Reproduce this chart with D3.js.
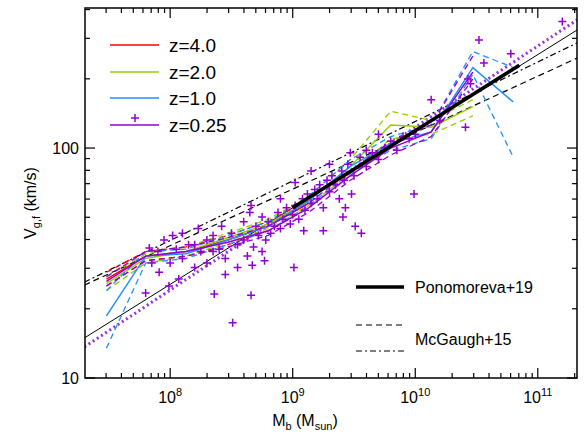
<!DOCTYPE html>
<html><head><meta charset="utf-8">
<script src="https://cdn.jsdelivr.net/npm/d3@7"></script>
<style>body{margin:0;background:#fff}text{font-family:"Liberation Sans",Arial,sans-serif}</style>
</head><body><div id="chart"></div>
<script>
// log10 stellar+gas mass bins for the median curves
const massBins = [7.48, 7.8, 8.13, 8.47, 8.8, 9.13, 9.47, 9.8, 10.13, 10.47, 10.8];
// log10 V medians and 16/84 percentiles per redshift
const z4 = { med: [1.43, 1.53, 1.55, 1.60, 1.66, 1.76], lo: [1.40, 1.51, 1.53, 1.58, 1.64, 1.74], hi: [1.46, 1.55, 1.57, 1.62, 1.68, 1.78] };
const z2 = { med: [1.41, 1.52, 1.55, 1.61, 1.67, 1.77, 1.92, 2.10, 2.09, 2.18], lo: [1.38, 1.50, 1.53, 1.59, 1.65, 1.75, 1.89, 2.04, 2.06, 2.14], hi: [1.44, 1.54, 1.57, 1.63, 1.69, 1.79, 1.95, 2.16, 2.12, 2.21] };
const z1 = { med: [1.27, 1.53, 1.54, 1.60, 1.66, 1.77, 1.92, 2.02, 2.07, 2.35, 2.20], lo: [1.13, 1.50, 1.52, 1.58, 1.64, 1.75, 1.89, 1.99, 2.04, 2.32, 1.96], hi: [1.38, 1.55, 1.56, 1.62, 1.68, 1.79, 1.95, 2.05, 2.10, 2.42, 2.35] };
const z025 = { med: [1.42, 1.53, 1.55, 1.59, 1.64, 1.74, 1.88, 2.00, 2.07, 2.33], lo: [1.40, 1.51, 1.53, 1.57, 1.62, 1.72, 1.86, 1.97, 2.05, 2.30], hi: [1.44, 1.55, 1.57, 1.61, 1.66, 1.76, 1.90, 2.03, 2.10, 2.40] };
// z=0.25 individual galaxies [logM, logV]
const galaxies = [
  [7.80,1.37],[7.83,1.565],[8.02,1.62],[7.99,1.40],[8.07,1.43],[7.91,1.46],[8.23,1.65],[8.36,1.365],[8.51,1.24],[8.66,1.36],
  [8.67,1.49],[8.77,1.51],[9.01,1.48],[9.02,1.85],[8.66,1.75],[9.09,1.64],[9.25,1.64],[9.41,1.70],[9.43,1.74],[9.51,1.66],
  [9.56,1.63],[9.48,1.80],[9.47,1.98],[9.99,1.80],[10.13,2.21],[10.41,2.09],[10.52,2.47],[10.56,2.37],[10.78,2.41],[11.20,2.55],
  [10.43,2.30],[8.0,1.50],[8.05,1.56],[8.1,1.52],[8.15,1.58],[8.2,1.48],[8.25,1.55],[8.3,1.60],[8.3,1.50],[8.35,1.62],
  [8.4,1.56],[8.42,1.66],[8.45,1.52],[8.5,1.63],[8.55,1.58],[8.6,1.68],[8.6,1.60],[8.65,1.72],[8.68,1.57],[8.7,1.66],
  [8.72,1.62],[8.75,1.70],[8.78,1.60],[8.8,1.68],[8.82,1.63],[8.85,1.66],[8.88,1.72],[8.9,1.65],[8.92,1.69],[8.95,1.74],
  [8.98,1.67],[9.0,1.71],[9.02,1.75],[9.05,1.69],[9.08,1.78],[9.1,1.73],[9.12,1.80],[9.15,1.76],[9.18,1.82],[9.2,1.78],
  [9.22,1.84],[9.25,1.74],[9.28,1.86],[9.3,1.81],[9.32,1.88],[9.35,1.84],[9.38,1.78],[9.4,1.90],[9.42,1.86],[9.45,1.93],
  [9.5,1.88],[9.55,1.96],[9.6,1.92],[9.65,1.98],[9.7,1.95],[9.75,2.0],[9.8,2.03],[9.85,1.99],[9.9,2.05],[9.95,2.04],
  [10.0,2.06],[7.9,1.55],[7.95,1.60],[7.85,1.50],[8.1,1.63],[8.2,1.58],[8.35,1.55],[8.45,1.45],[8.55,1.48],[8.63,1.53],
  [8.75,1.55],[9.3,1.93],[9.15,1.9],[8.9,1.78],[10.2,2.12],[10.45,2.28],[9.7,2.06],[9.6,1.99]
];
// reference relations: [logM0, logV0, logM1, logV1]
const ponoThick = [9.0, 1.74, 10.85, 2.36];
const ponoThin = [7.30, 1.174, 11.32, 2.513];
const fitDotted = [7.30, 1.135, 11.32, 2.557];
const mcgDash = [7.30, 1.404, 11.32, 2.391];
const mcgDashDot = [7.30, 1.417, 11.32, 2.457];
const yTicks = [10, 100];
const xTicks = [8, 9, 10, 11];

const W = 586, H = 432;
const m = { l: 85, r: 9, t: 8, b: 54 };
const x = d3.scaleLinear().domain([7.305, 11.32]).range([m.l, W - m.r]);
const y = d3.scaleLinear().domain([1, 2.609]).range([H - m.b, m.t]);

const svg = d3.select('#chart').append('svg').attr('width', W).attr('height', H);
const plot = svg.append('g');
svg.append('defs').append('clipPath').attr('id', 'c').append('rect')
  .attr('x', m.l).attr('y', m.t).attr('width', W - m.l - m.r).attr('height', H - m.t - m.b);
plot.attr('clip-path', 'url(#c)');

function seg(s, color, width, dash) {
  plot.append('line').attr('x1', x(s[0])).attr('y1', y(s[1])).attr('x2', x(s[2])).attr('y2', y(s[3]))
    .attr('stroke', color).attr('stroke-width', width).attr('stroke-dasharray', dash || null);
}
seg(ponoThin, '#000', 1);
seg(mcgDash, '#000', 1.2, '6,4');
seg(mcgDashDot, '#000', 1.2, '6,3,2,3');
seg(fitDotted, '#9932e0', 3, '2,3');

const line = d3.line().x((d, i) => x(massBins[i])).y(d => y(d));
function curves(s, color) {
  plot.append('path').attr('d', line(s.lo)).attr('fill', 'none').attr('stroke', color).attr('stroke-width', 1.3).attr('stroke-dasharray', '6,4');
  plot.append('path').attr('d', line(s.hi)).attr('fill', 'none').attr('stroke', color).attr('stroke-width', 1.3).attr('stroke-dasharray', '6,4');
  plot.append('path').attr('d', line(s.med)).attr('fill', 'none').attr('stroke', color).attr('stroke-width', 1.5);
}
curves(z4, '#ff0000');
curves(z2, '#99cc00');
curves(z1, '#1e90ff');
curves(z025, '#9400d3');

plot.selectAll('.g').data(galaxies).enter().append('path')
  .attr('d', d => { const cx = x(d[0]), cy = y(d[1]); return `M${cx - 4},${cy}H${cx + 4}M${cx},${cy - 4}V${cy + 4}`; })
  .attr('stroke', '#9400d3').attr('stroke-width', 1.5);
seg(ponoThick, '#000', 3.5);

// axes frame with IDL-style ticks on all sides
const x0 = m.l, x1 = W - m.r, y0 = H - m.b, y1 = m.t;
svg.append('rect').attr('x', x0).attr('y', y1).attr('width', x1 - x0).attr('height', y0 - y1)
  .attr('fill', 'none').attr('stroke', '#000').attr('stroke-width', 1.5);
const tk = svg.append('g').attr('stroke', '#000').attr('stroke-width', 1.2);
for (let e = 7; e <= 11; e++) for (let k = 1; k <= 9; k++) {
  const v = e + Math.log10(k);
  if (v < x.domain()[0] || v > x.domain()[1]) continue;
  const L = k === 1 ? 10 : 5, px = x(v);
  tk.append('line').attr('x1', px).attr('x2', px).attr('y1', y0).attr('y2', y0 - L);
  tk.append('line').attr('x1', px).attr('x2', px).attr('y1', y1).attr('y2', y1 + L);
}
for (let e = 1; e <= 2; e++) for (let k = 1; k <= 9; k++) {
  const v = e + Math.log10(k);
  if (v > y.domain()[1]) continue;
  const L = k === 1 ? 10 : 5, py = y(v);
  tk.append('line').attr('y1', py).attr('y2', py).attr('x1', x0).attr('x2', x0 + L);
  tk.append('line').attr('y1', py).attr('y2', py).attr('x1', x1).attr('x2', x1 - L);
}
yTicks.forEach(v => svg.append('text').attr('x', x0 - 6).attr('y', y(Math.log10(v)) + 6)
  .attr('text-anchor', 'end').attr('font-size', 16).text(v));
xTicks.forEach(e => {
  const t = svg.append('text').attr('x', x(e)).attr('y', y0 + 25).attr('text-anchor', 'middle').attr('font-size', 16);
  t.append('tspan').text('10');
  t.append('tspan').attr('dy', -7).attr('font-size', 11).text(e);
});
const xt = svg.append('text').attr('x', x(9.1)).attr('y', H - 6).attr('text-anchor', 'middle').attr('font-size', 16);
xt.append('tspan').text('M');
xt.append('tspan').attr('dy', 4).attr('font-size', 11).text('b');
xt.append('tspan').attr('dy', -4).text(' (M');
xt.append('tspan').attr('dy', 4).attr('font-size', 11).text('sun');
xt.append('tspan').attr('dy', -4).text(')');
const yt = svg.append('text').attr('transform', `translate(36,${(y0 + y1) / 2 + 10}) rotate(-90)`).attr('text-anchor', 'middle').attr('font-size', 16);
yt.append('tspan').text('V');
yt.append('tspan').attr('dy', 4).attr('font-size', 11).text('g,f');
yt.append('tspan').attr('dy', -4).text(' (km/s)');

// legends
const leg = [['z=4.0', '#ff0000', 45], ['z=2.0', '#99cc00', 72], ['z=1.0', '#1e90ff', 98], ['z=0.25', '#9400d3', 125]];
leg.forEach(([t, c, ly]) => {
  svg.append('line').attr('x1', 110).attr('x2', 159).attr('y1', ly).attr('y2', ly).attr('stroke', c).attr('stroke-width', 1.5);
  svg.append('text').attr('x', 169).attr('y', ly + 7).attr('font-size', 19).text(t);
});
svg.append('path').attr('d', 'M131,118H139M135,114V122').attr('stroke', '#9400d3').attr('stroke-width', 1.5);
svg.append('line').attr('x1', 356).attr('x2', 404).attr('y1', 287).attr('y2', 287).attr('stroke', '#000').attr('stroke-width', 3.5);
svg.append('text').attr('x', 415).attr('y', 293).attr('font-size', 16).text('Ponomoreva+19');
svg.append('line').attr('x1', 356).attr('x2', 404).attr('y1', 325).attr('y2', 325).attr('stroke', '#000').attr('stroke-width', 1.2).attr('stroke-dasharray', '6,4');
svg.append('line').attr('x1', 356).attr('x2', 404).attr('y1', 351).attr('y2', 351).attr('stroke', '#000').attr('stroke-width', 1.2).attr('stroke-dasharray', '6,3,2,3');
svg.append('text').attr('x', 415).attr('y', 345).attr('font-size', 16).text('McGaugh+15');
</script></body></html>
